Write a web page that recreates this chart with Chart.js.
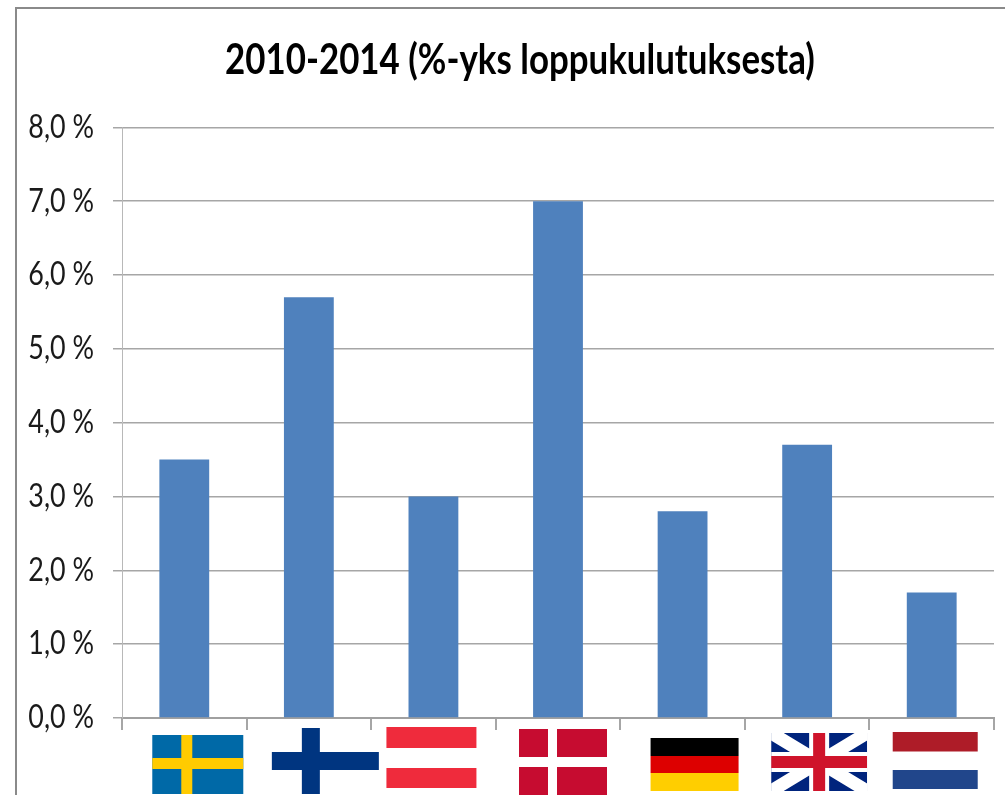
<!DOCTYPE html>
<html><head><meta charset="utf-8">
<style>html,body{margin:0;padding:0;background:#fff}#w{width:1005px;height:795px;position:relative}canvas{display:block}</style>
<script src="https://cdn.jsdelivr.net/npm/chart.js@4"></script>
</head><body><div id="w"><canvas id="c" width="1005" height="795"></canvas></div>
<script>
const categories = ['Ruotsi','Suomi','Itävalta','Tanska','Saksa','Iso-Britannia','Alankomaat'];
const values = [3.5,5.7,3.0,7.0,2.8,3.7,1.7];
const yTickLabels = ['0,0 %','1,0 %','2,0 %','3,0 %','4,0 %','5,0 %','6,0 %','7,0 %','8,0 %'];
const titleText = '2010-2014 (%-yks loppukulutuksesta)';

function rect(ctx,c,x,y,w,h){ctx.fillStyle=c;ctx.fillRect(x,y,w,h);}
const flagPainters = [
 (g,cx)=>{const x=cx-32;rect(g,'#0069a7',x,735,91,59);rect(g,'#ffcb00',x+29,735,11,59);rect(g,'#ffcb00',x,758,91,11);},
 (g,cx)=>{const x=cx-37;rect(g,'#003580',x+30,728,18,66);rect(g,'#003580',x,752,107,18);},
 (g,cx)=>{const x=cx-47;rect(g,'#ef2b3c',x,727,90,21);rect(g,'#ef2b3c',x,768,90,20);},
 (g,cx)=>{const x=cx-39;rect(g,'#c60c30',x,729,88,66);rect(g,'#ffffff',x+29,729,9,66);rect(g,'#ffffff',x,757,88,10);},
 (g,cx)=>{const x=cx-32;rect(g,'#000000',x,738,88,18);rect(g,'#dd0000',x,756,88,17);rect(g,'#ffce00',x,773,88,18);},
 (g,cx)=>{const x=cx-36,y=733,w=96,h=58;
   g.save();g.beginPath();g.rect(x,y,w,h);g.clip();
   rect(g,'#00247d',x,y,w,h);
   g.strokeStyle='#ffffff';g.lineWidth=13;
   g.beginPath();g.moveTo(x,y);g.lineTo(x+w,y+h);g.moveTo(x+w,y);g.lineTo(x,y+h);g.stroke();
   rect(g,'#ffffff',x+w/2-10,y,20,h);rect(g,'#ffffff',x,y+h/2-10,w,20);
   rect(g,'#cf142b',x+w/2-6,y,12,h);rect(g,'#cf142b',x,y+h/2-6,w,12);
   g.restore();},
 (g,cx)=>{const x=cx-39;rect(g,'#ae1c28',x,732,85,19.5);rect(g,'#21468b',x,770,85,19);}
];

// Narrow a drawing call horizontally about a pivot (the reference type is condensed).
function condense(obj,method,pivot,factor){
  const orig=obj[method];
  obj[method]=function(...args){
    const g=this.ctx;
    g.save();g.translate(pivot(),0);g.scale(factor,1);g.translate(-pivot(),0);
    orig.apply(this,args);
    g.restore();
  };
}

const decor = {
  id:'decor',
  afterLayout(chart){
    const tb=chart.titleBlock;
    tb.left=46;                       // title centred a little left of the plot
    if(!chart.$condensed){
      chart.$condensed=true;
      condense(tb,'draw',()=>520,0.83);
      condense(chart.scales.y,'drawLabels',()=>94,0.84);
    }
  },
  beforeDraw(chart){
    const g=chart.ctx;
    g.save();
    g.fillStyle='#ffffff';g.fillRect(0,0,chart.width,chart.height);
    g.fillStyle='#8a8a8a';
    g.fillRect(15,7,chart.width-15,2);
    g.fillRect(15,7,2,chart.height-7);
    g.restore();
  },
  afterDraw(chart){
    const g=chart.ctx,xs=chart.scales.x;
    g.save();
    flagPainters.forEach((p,i)=>p(g,xs.getPixelForValue(i)));
    g.restore();
  }
};

new Chart(document.getElementById('c'),{
  type:'bar',
  plugins:[decor],
  data:{labels:categories,datasets:[{data:values,backgroundColor:'#4f81bd',borderWidth:0,barPercentage:0.4,categoryPercentage:1}]},
  options:{
    responsive:false,animation:false,
    layout:{padding:{left:0,right:11,top:0,bottom:0}},
    plugins:{
      legend:{display:false},tooltip:{enabled:false},
      title:{display:true,text:titleText,color:'#000',
        font:{family:'Lato',size:42,weight:'bold',lineHeight:1.2},
        padding:{top:35,bottom:42}}
    },
    scales:{
      x:{
        afterFit(a){a.height=77;},
        grid:{display:true,drawOnChartArea:false,offset:true,color:'#a6a6a6',lineWidth:2,tickLength:12},
        border:{display:true,color:'#a0a0a0',width:2},
        ticks:{display:false}
      },
      y:{
        min:0,max:8,
        afterFit(a){a.width=122;},
        grid:{color:'#a6a6a6',lineWidth:1.5,tickLength:9},
        border:{display:true,color:'#b8b8b8',width:1},
        ticks:{stepSize:1,padding:19,color:'#1a1a1a',font:{family:'Lato',size:32},
          callback:(v)=>yTickLabels[Math.round(v)]}
      }
    }
  }
});
</script></body></html>
